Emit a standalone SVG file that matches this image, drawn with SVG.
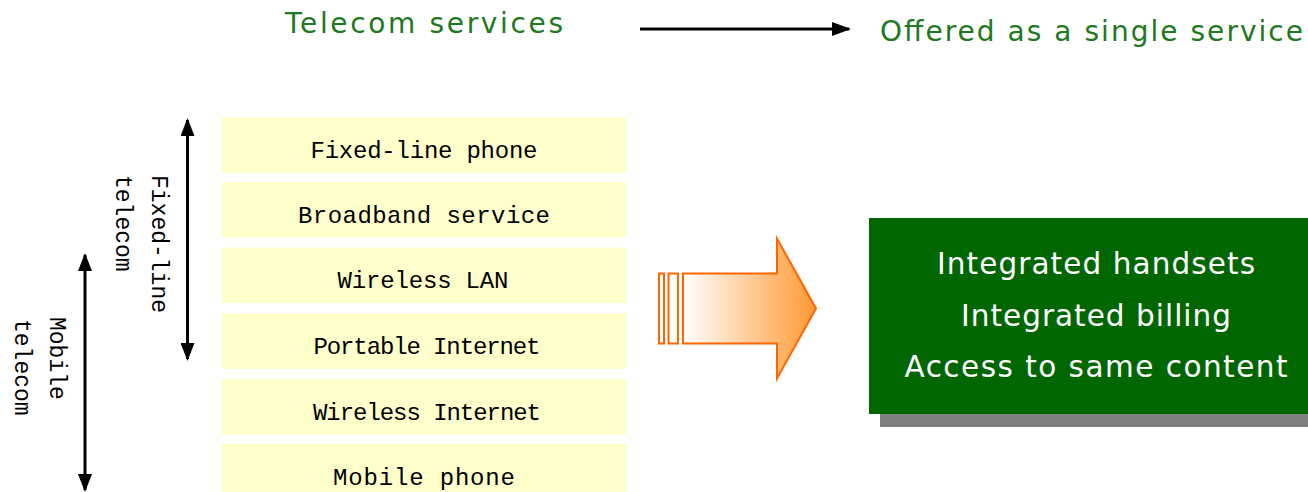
<svg xmlns="http://www.w3.org/2000/svg" width="1308" height="492" viewBox="0 0 1308 492">
  <style>
    .title { font-family: "DejaVu Sans", "Liberation Sans", sans-serif; font-size: 28px; fill: #217821; }
    .box { fill: #FFFFCC; }
    .boxtxt { font-family: "Liberation Mono", "DejaVu Sans Mono", monospace; font-size: 24px; fill: #000; text-anchor: middle; }
    .side { font-family: "Liberation Mono", "DejaVu Sans Mono", monospace; font-size: 23px; fill: #000; }
    .conn { stroke: #000; fill: none; }
    .res { font-family: "DejaVu Sans", "Liberation Sans", sans-serif; font-size: 29.5px; fill: #fff; text-anchor: middle; }
  </style>
  <defs>
    <marker id="ah" viewBox="0 0 18 14" refX="16" refY="7" markerWidth="18" markerHeight="14" markerUnits="userSpaceOnUse" orient="auto-start-reverse">
      <path d="M0,0 L18,7 L0,14 Z" fill="#000"/>
    </marker>
    <marker id="ah2" viewBox="0 0 19 14" refX="17" refY="7" markerWidth="19" markerHeight="14" markerUnits="userSpaceOnUse" orient="auto">
      <path d="M0,0 L19,7 L0,14 Z" fill="#000"/>
    </marker>
    <linearGradient id="og" x1="683" y1="0" x2="816" y2="0" gradientUnits="userSpaceOnUse">
      <stop offset="0" stop-color="#ffffff"/>
      <stop offset="1" stop-color="#ff9933"/>
    </linearGradient>
  </defs>

  <g id="title-left">
    <text class="title" x="285" y="33" textLength="278" lengthAdjust="spacing">Telecom services</text>
  </g>
  <g id="title-right">
    <text class="title" x="880" y="41" textLength="423" lengthAdjust="spacing">Offered as a single service</text>
  </g>

  <g id="connectors">
    <line class="conn" x1="640" y1="29" x2="849" y2="29" stroke-width="3" marker-end="url(#ah2)"/>
    <line class="conn" x1="187.5" y1="120" x2="187.5" y2="359" stroke-width="3" marker-start="url(#ah)" marker-end="url(#ah)"/>
    <line class="conn" x1="85" y1="255" x2="85" y2="490" stroke-width="3" marker-start="url(#ah)" marker-end="url(#ah)"/>
  </g>

  <g id="label-fixed">
    <g transform="translate(152,175) rotate(90)">
      <text class="side" x="0" y="0">Fixed-line</text>
      <text class="side" x="0" y="36">telecom</text>
    </g>
  </g>
  <g id="label-mobile">
    <g transform="translate(50,317) rotate(90)">
      <text class="side" x="0" y="0">Mobile</text>
      <text class="side" x="2" y="35">telecom</text>
    </g>
  </g>

  <g id="svc-fixed-phone">
    <rect class="box" x="222" y="117.5" width="404" height="55.5"/>
    <text class="boxtxt" x="424" y="158" textLength="227" lengthAdjust="spacing">Fixed-line phone</text>
  </g>
  <g id="svc-broadband">
    <rect class="box" x="222" y="182" width="404" height="55.5"/>
    <text class="boxtxt" x="424" y="222.5" textLength="252" lengthAdjust="spacing">Broadband service</text>
  </g>
  <g id="svc-wlan">
    <rect class="box" x="222" y="247.5" width="404" height="55.5"/>
    <text class="boxtxt" x="423" y="288" textLength="171" lengthAdjust="spacing">Wireless LAN</text>
  </g>
  <g id="svc-portable">
    <rect class="box" x="222" y="313.5" width="404" height="55.5"/>
    <text class="boxtxt" x="427" y="354" textLength="227" lengthAdjust="spacing">Portable Internet</text>
  </g>
  <g id="svc-wireless-internet">
    <rect class="box" x="222" y="379" width="404" height="55.5"/>
    <text class="boxtxt" x="427" y="419.5" textLength="228" lengthAdjust="spacing">Wireless Internet</text>
  </g>
  <g id="svc-mobile-phone">
    <rect class="box" x="222" y="444" width="404" height="55.5"/>
    <text class="boxtxt" x="424" y="484.5" textLength="182" lengthAdjust="spacing">Mobile phone</text>
  </g>

  <g id="big-arrow" stroke="#ff6600" stroke-width="2" stroke-linejoin="miter">
    <rect x="659" y="273.5" width="5" height="70" fill="#ffffff"/>
    <rect x="668.5" y="273.5" width="9.5" height="70" fill="#ffffff"/>
    <path d="M683,273.5 L777,273.5 L777,238.5 L816,308.5 L777,378.5 L777,343.5 L683,343.5 Z" fill="url(#og)"/>
  </g>

  <g id="result">
    <rect x="880" y="228" width="440" height="199" fill="#808080"/>
    <rect x="869" y="218" width="450" height="196" fill="#006600"/>
    <text class="res" x="1096" y="274" textLength="318" lengthAdjust="spacing">Integrated handsets</text>
    <text class="res" x="1096" y="326" textLength="270" lengthAdjust="spacing">Integrated billing</text>
    <text class="res" x="1096" y="377" textLength="383" lengthAdjust="spacing">Access to same content</text>
  </g>
</svg>
